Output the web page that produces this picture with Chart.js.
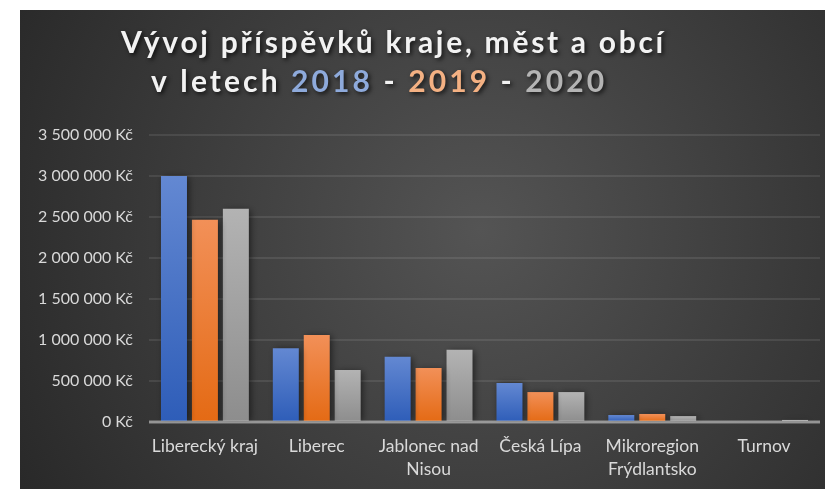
<!DOCTYPE html>
<html>
<head>
<meta charset="utf-8">
<script src="https://cdn.jsdelivr.net/npm/chart.js@4"></script>
<style>
  html, body { margin: 0; padding: 0; background: #fff; }
  #wrap { width: 825px; height: 489px; }
</style>
</head>
<body>
<div id="wrap"><canvas id="chart"></canvas></div>
<script>
const categories = ["Liberecký kraj", "Liberec", ["Jablonec nad", "Nisou"], "Česká Lípa", ["Mikroregion", "Frýdlantsko"], "Turnov"];
const values2018 = [3000000, 900000, 795000, 475000, 85000, 0];
const values2019 = [2465000, 1060000, 660000, 365000, 98000, 0];
const values2020 = [2600000, 635000, 880000, 365000, 72000, 25000];
const titleLine1 = [["Vývoj příspěvků kraje, měst a obcí", "#f2f2f2"]];
const titleLine2 = [["v letech ", "#f2f2f2"], ["2018", "#8eaadb"], [" - ", "#f2f2f2"], ["2019", "#f4b183"], [" - ", "#f2f2f2"], ["2020", "#b4b4b4"]];

function formatKc(v) {
  return String(v).replace(/\B(?=(\d{3})+(?!\d))/g, " ") + " Kč";
}

// vertical gradient per bar, from its top down to zero
function barGradient(light, dark) {
  return (ctx) => {
    const chart = ctx.chart;
    if (!chart.chartArea || ctx.type !== "data") return dark;
    const y = chart.scales.y;
    const top = y.getPixelForValue(ctx.raw);
    const base = y.getPixelForValue(0);
    if (base - top < 1) return dark;
    const g = chart.ctx.createLinearGradient(0, top, 0, base);
    g.addColorStop(0, light);
    g.addColorStop(1, dark);
    return g;
  };
}

const backgroundPlugin = {
  id: "darkBackground",
  beforeDraw(chart) {
    const c = chart.ctx;
    c.save();
    c.fillStyle = "#ffffff";
    c.fillRect(0, 0, chart.width, chart.height);
    const g = c.createRadialGradient(480, 230, 0, 480, 230, 560);
    g.addColorStop(0, "#545454");
    g.addColorStop(1, "#262626");
    c.fillStyle = g;
    c.fillRect(20, 10, chart.width - 20, chart.height - 10);
    c.restore();
  }
};

const titlePlugin = {
  id: "colouredTitle",
  afterDraw(chart) {
    const c = chart.ctx;
    c.save();
    c.font = "bold 30px Lato";
    c.textBaseline = "alphabetic";
    c.shadowColor = "rgba(0,0,0,0.7)";
    c.shadowBlur = 4;
    c.shadowOffsetX = 2;
    c.shadowOffsetY = 2;
    const drawLine = (parts, x, y, spacing) => {
      c.letterSpacing = spacing;
      parts.forEach(([text, color]) => {
        c.fillStyle = color;
        c.fillText(text, x, y);
        x += c.measureText(text).width;
      });
    };
    drawLine(titleLine1, 121, 53, "2.7px");
    drawLine(titleLine2, 151, 92, "3.1px");
    c.restore();
  }
};

const shadowPlugin = {
  id: "barShadow",
  beforeDatasetsDraw(chart) {
    const c = chart.ctx;
    c.save();
    c.shadowColor = "rgba(0,0,0,0.55)";
    c.shadowBlur = 7;
    c.shadowOffsetX = 2;
    c.shadowOffsetY = 1;
  },
  afterDatasetsDraw(chart) {
    const c = chart.ctx;
    c.restore();
    // zero axis line over the bars
    const y0 = chart.scales.y.getPixelForValue(0);
    c.save();
    c.strokeStyle = "rgba(200,200,200,0.6)";
    c.lineWidth = 3;
    c.beginPath();
    c.moveTo(chart.chartArea.left, y0);
    c.lineTo(chart.chartArea.right, y0);
    c.stroke();
    c.restore();
  }
};

new Chart(document.getElementById("chart"), {
  type: "bar",
  data: {
    labels: categories,
    datasets: [
      { label: "2018", data: values2018, backgroundColor: barGradient("#6388d2", "#2e5db8") },
      { label: "2019", data: values2019, backgroundColor: barGradient("#f29058", "#e46a14") },
      { label: "2020", data: values2020, backgroundColor: barGradient("#b3b3b3", "#8d8d8d") }
    ]
  },
  options: {
    responsive: true,
    maintainAspectRatio: false,
    animation: false,
    categoryPercentage: 0.83,
    barPercentage: 0.84,
    layout: { padding: { left: 20, right: 5, top: 135, bottom: 0 } },
    plugins: {
      legend: { display: false },
      title: { display: false },
      tooltip: { enabled: false }
    },
    scales: {
      x: {
        grid: { display: false, drawTicks: false },
        border: { display: false },
        ticks: {
          color: "#d9d9d9",
          font: { family: "Lato", size: 17.5, lineHeight: 1.3 },
          padding: 13,
          maxRotation: 0,
          autoSkip: false
        },
        afterFit(scale) { scale.height = 67; }
      },
      y: {
        min: 0,
        max: 3500000,
        grid: { color: "rgba(255,255,255,0.09)", lineWidth: 2, drawTicks: false },
        border: { display: false },
        ticks: {
          stepSize: 500000,
          color: "#d9d9d9",
          font: { family: "Lato", size: 16 },
          padding: 16,
          callback: (v) => formatKc(v)
        },
        afterFit(scale) { scale.width = 129; }
      }
    }
  },
  plugins: [backgroundPlugin, shadowPlugin, titlePlugin]
});
</script>
</body>
</html>
